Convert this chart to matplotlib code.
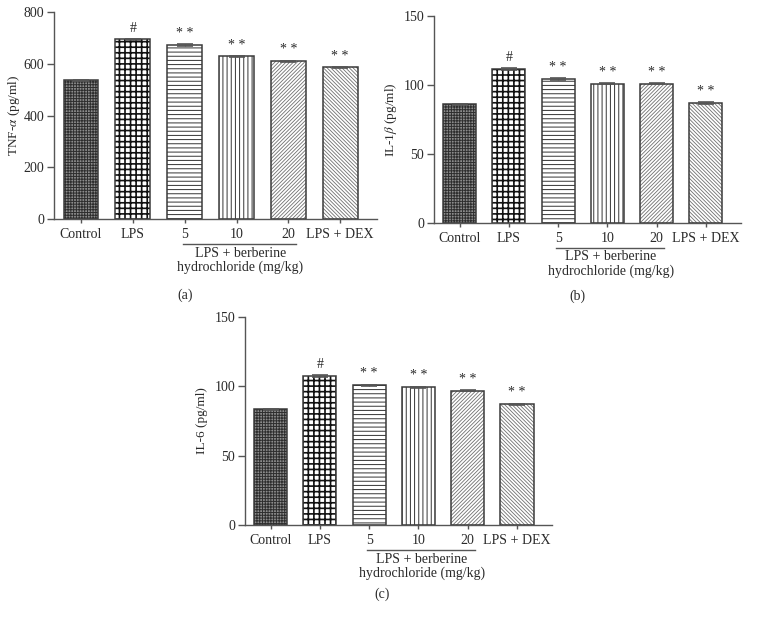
import numpy as np
import matplotlib
matplotlib.use("Agg")
import matplotlib.pyplot as plt

plt.rcParams["font.family"] = ["Liberation Serif", "DejaVu Serif"]
plt.rcParams["mathtext.fontset"] = "stix"
plt.rcParams["font.size"] = 10

# data
groups = ["Control", "LPS", "5", "10", "20", "LPS + DEX"]
marks = ["", "#", "* *", "* *", "* *", "* *"]
tnf = [537, 694, 672, 629, 610, 586]
tnf_err = [2, 3, 3, 2, 2, 2]
il1b = [85.7, 111.3, 104.0, 100.7, 100.7, 86.7]
il1b_err = [0.4, 0.6, 0.5, 0.4, 0.4, 0.4]
il6 = [83.3, 107.2, 100.6, 99.3, 96.6, 87.0]
il6_err = [0.4, 0.5, 0.5, 0.4, 0.4, 0.4]

# fill style per bar: hatch, hatch colour, face colour, hatch line width
hatches = ["++++++", "+++", "----", "||||", "/////////", "\\\\\\\\\\\\\\\\\\"]
hatch_cols = ["#2e2e2e", "#111111", "#333333", "#333333", "#707070", "#707070"]
faces = ["#8c8c8c", "white", "white", "white", "white", "white"]
hatch_lw = [0.7, 1.2, 0.7, 0.7, 0.6, 0.6]
edge = "#3a3a3a"
txt = "#2a2a2a"


def draw_panel(ax, vals, errs, ymax, yticks, ylabel, label_x, tag, tagpos):
    x = np.arange(len(groups))
    for i in x:
        with plt.rc_context({"hatch.linewidth": hatch_lw[i]}):
            ax.bar(i, vals[i], width=0.67, color=faces[i], edgecolor=hatch_cols[i],
                   hatch=hatches[i], linewidth=0, zorder=2)
        ax.bar(i, vals[i], width=0.67, color="none", edgecolor=edge,
               linewidth=1.1, zorder=2.5)
        ax.errorbar(i, vals[i], yerr=errs[i], color="#555555", capsize=6,
                    elinewidth=0.8, capthick=1.2, zorder=3)
        if marks[i]:
            ax.annotate(marks[i], xy=(i, vals[i] + errs[i]), xytext=(0, 3),
                        textcoords="offset points", ha="center", va="bottom",
                        fontsize=10, color=txt)
    ax.set_xlim(-0.52, 5.71)
    ax.set_ylim(0, ymax)
    ax.set_yticks(yticks)
    ax.set_xticks(x)
    ax.set_xticklabels(groups, color=txt)
    ax.tick_params(axis="y", colors="#555555", labelcolor=txt, length=5, width=1, pad=2)
    ax.tick_params(axis="x", colors="#555555", labelcolor=txt, length=3, width=1)
    for s in ["top", "right"]:
        ax.spines[s].set_visible(False)
    for s in ["left", "bottom"]:
        ax.spines[s].set_color("#555555")
        ax.spines[s].set_linewidth(1.0)
    ax.set_ylabel(ylabel, color=txt, fontsize=9.5)
    ax.yaxis.set_label_coords(label_x, 0.5)

    # group bracket for berberine doses
    tr = ax.get_xaxis_transform()
    ax.plot([1.96, 4.15], [-0.12, -0.12], transform=tr, color="#555555",
            lw=1.0, clip_on=False)
    ax.text(3.07, -0.133, "LPS + berberine\nhydrochloride (mg/kg)",
            transform=tr, ha="center", va="top", color=txt, linespacing=1.1)
    ax.figure.text(tagpos[0], tagpos[1], tag, ha="center", va="center",
                   color=txt, fontsize=10)


fig = plt.figure(figsize=(7.62, 6.2), dpi=100)
ax_a = fig.add_axes([0.0709, 0.6468, 0.4239, 0.3338])
ax_b = fig.add_axes([0.5696, 0.6408, 0.4024, 0.3339])
ax_c = fig.add_axes([0.3215, 0.1532, 0.4029, 0.336])

draw_panel(ax_a, tnf, tnf_err, 800, [0, 200, 400, 600, 800],
           r"TNF-$\alpha$ (pg/ml)", -0.10, "(a)", (185 / 762, 1 - 295 / 620))
draw_panel(ax_b, il1b, il1b_err, 150, [0, 50, 100, 150],
           r"IL-1$\beta$ (pg/ml)", -0.114, "(b)", (577 / 762, 1 - 296 / 620))
draw_panel(ax_c, il6, il6_err, 150, [0, 50, 100, 150],
           "IL-6 (pg/ml)", -0.12, "(c)", (382 / 762, 1 - 594 / 620))

fig.savefig("out.png", dpi=100, facecolor="white")
